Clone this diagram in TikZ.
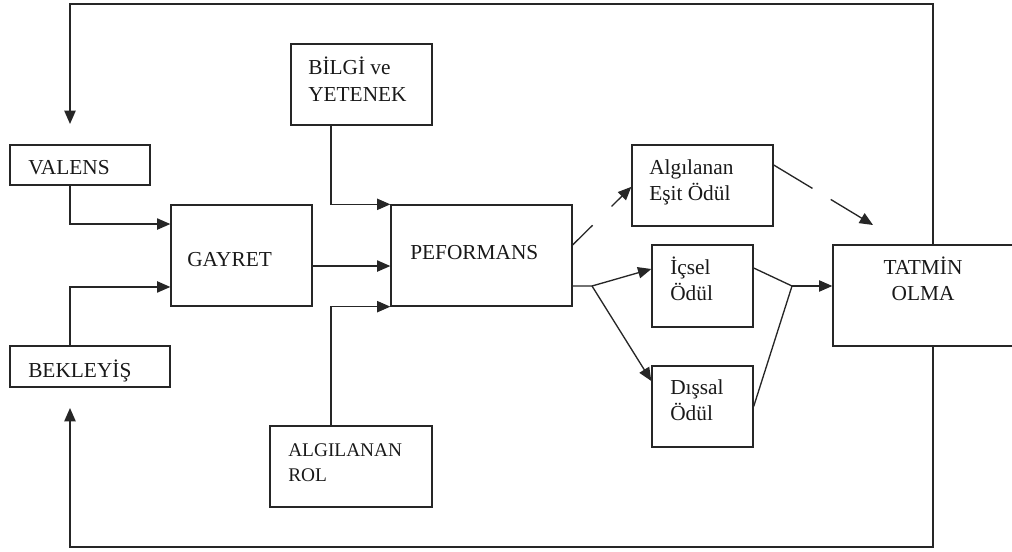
\documentclass[tikz,border=0pt]{standalone}
\usepackage{fontspec}
\setmainfont{Liberation Serif}
\usetikzlibrary{arrows.meta,fit}
\begin{document}
\begin{tikzpicture}[x=0.75pt,y=-0.75pt,
  box/.style={draw=black!85,line width=1pt,inner sep=0pt,fill=none},
  txt/.style={inner sep=0pt,align=left,font=\fontsize{16}{19}\selectfont,text=black!90},
  arr/.style={draw=black!85,line width=1pt,-{Triangle[length=10pt,width=8.5pt]}},
  ln/.style={draw=black!85,line width=1pt}]
\useasboundingbox (0,0) rectangle (1012,552);
% boxes
\node[box,fit={(10,145) (150,185)}] (valens) {};
\node[box,fit={(291,44) (432,125)}] (bilgi) {};
\node[box,fit={(171,205) (312,306)}] (gayret) {};
\node[box,fit={(391,205) (572,306)}] (pef) {};
\node[box,fit={(10,346) (170,387)}] (bek) {};
\node[box,fit={(270,426) (432,507)}] (rol) {};
\node[box,fit={(632,145) (773,226)}] (esit) {};
\node[box,fit={(652,245) (753,327)}] (icsel) {};
\node[box,fit={(652,366) (753,447)}] (dissal) {};
\node[box,fit={(833,245) (1020,346)}] (tatmin) {};
% texts (base anchor = baseline of last line)
\node[txt,anchor=base west] (tvalens) at (28,175) {VALENS};
\node[txt,anchor=base west,font=\fontsize{16}{20.25}\selectfont] (tbilgi) at (308,102) {BİLGİ ve\\YETENEK};
\node[txt,anchor=base west] (tgayret) at (187,266) {GAYRET};
\node[txt,anchor=base west] (tpef) at (410,259) {PEFORMANS};
\node[txt,anchor=base west] (tbek) at (28,377) {BEKLEYİŞ};
\node[txt,anchor=base west,font=\fontsize{14.5}{18.75}\selectfont] (trol) at (288,481) {ALGILANAN\\ROL};
\node[txt,anchor=base west] (tesit) at (649,200) {Algılanan\\Eşit Ödül};
\node[txt,anchor=base west] (ticsel) at (670,300) {İçsel\\Ödül};
\node[txt,anchor=base west] (tdissal) at (670,420) {Dışsal\\Ödül};
\node[txt,anchor=base,align=center] (ttatmin) at (923,300) {TATMİN\\OLMA};
% helper coordinates
\coordinate (lx) at (70,0);
\coordinate (bx) at (331,0);
\coordinate (rx) at (933,0);
\coordinate (j1) at (592,286);
\coordinate (j2) at (792,286);
\coordinate (tr) at (933,4);
\coordinate (tl) at (70,4);
\coordinate (vt) at (70,124);
\coordinate (br) at (933,547);
\coordinate (bl) at (70,547);
\coordinate (vb) at (70,408);
\coordinate (et) at (873,225);
% connectors
\draw[arr] (valens.south -| lx) |- ([yshift=23.6pt]gayret.west);
\draw[arr] (bek.north -| lx) |- ([yshift=-23.6pt]gayret.west);
\draw[arr] ([yshift=-7.9pt]gayret.east) -- ([yshift=-7.9pt]pef.west);
\draw[arr] (bilgi.south -| bx) |- (pef.north west);
\draw[arr] (rol.north -| bx) |- (pef.south west);
\draw[arr,dash pattern=on 21pt off 20pt] ([yshift=7.9pt]pef.east) -- ([yshift=-1pt]esit.west);
\draw[arr,dash pattern=on 34pt off 16pt] ([yshift=15.4pt]esit.east) -- (et);
\draw[ln] ([yshift=-22.9pt]pef.east) -- (j1);
\draw[arr] (j1) -- ([yshift=12.75pt]icsel.west);
\draw[arr] (j1) -- ([yshift=19.1pt]dissal.west);
\draw[ln] ([yshift=13.5pt]icsel.east) -- (j2);
\draw[ln] (dissal.east) -- (j2);
\draw[arr] (j2) -- (tatmin.west |- j2);
\draw[arr] (tatmin.north -| rx) -- (tr) -- (tl) -- (vt);
\draw[arr] (tatmin.south -| rx) -- (br) -- (bl) -- (vb);
\end{tikzpicture}
\end{document}
